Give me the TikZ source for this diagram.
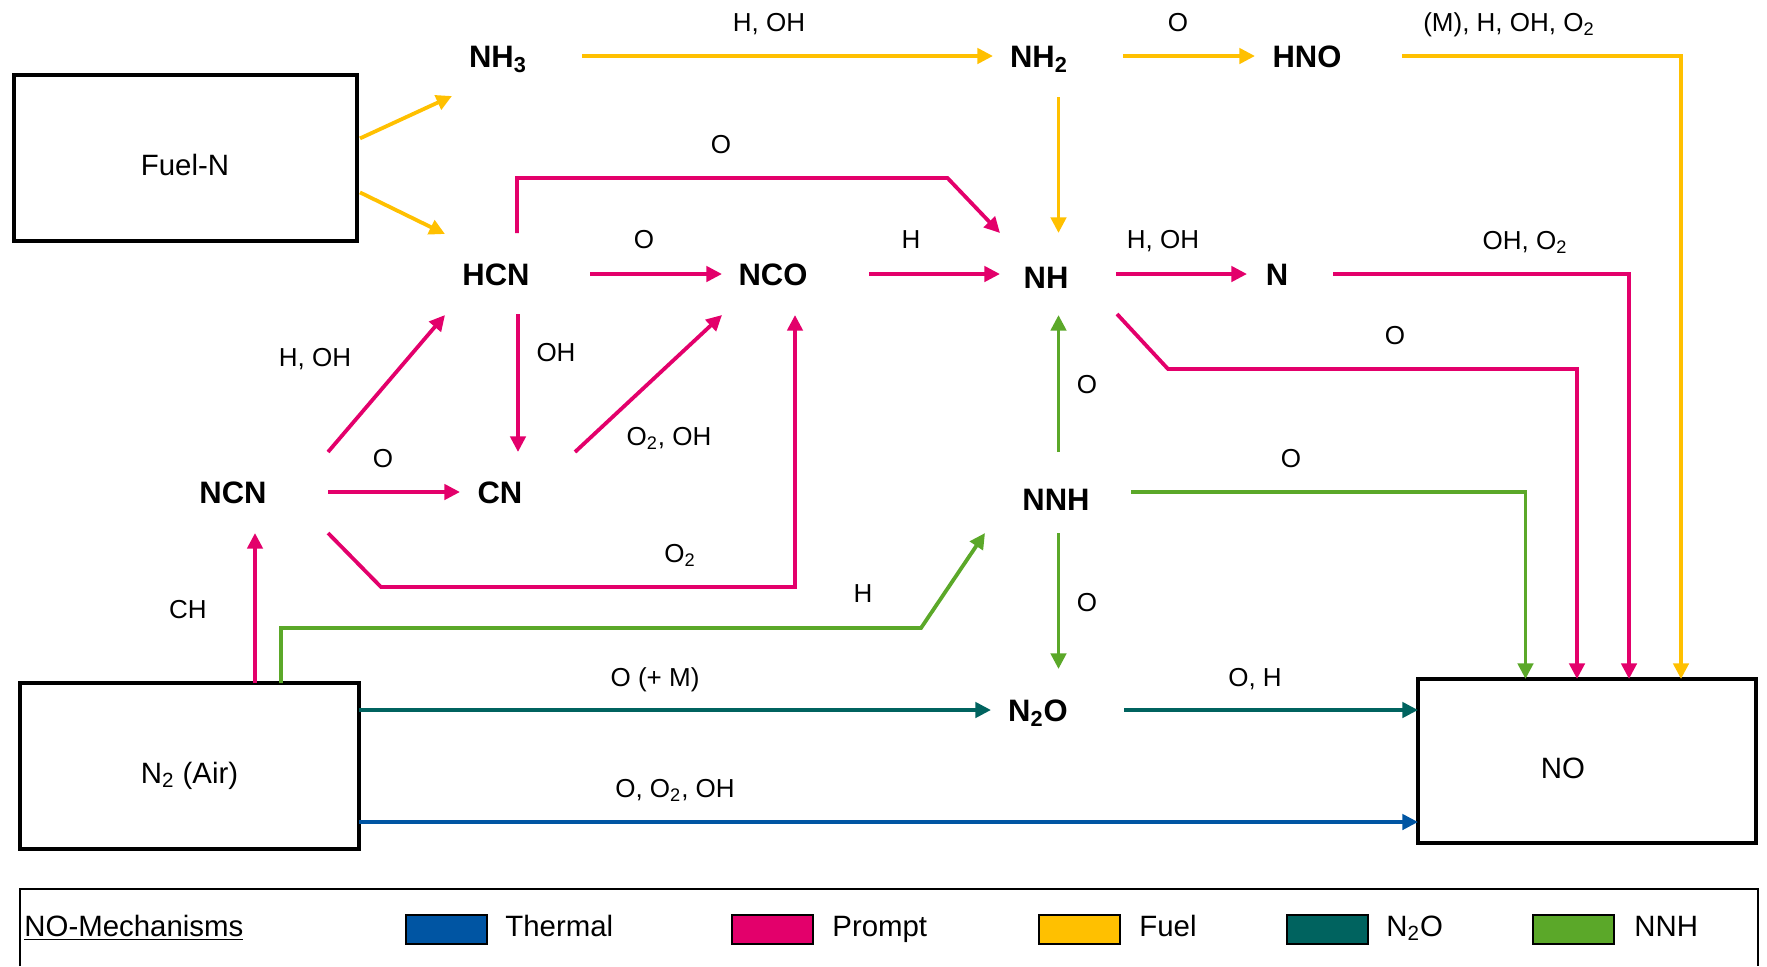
\documentclass[tikz,border=0pt]{standalone}
\usepackage{fontspec}
\setmainfont{Liberation Sans}
\usetikzlibrary{arrows.meta,calc}
\definecolor{cthermal}{HTML}{0055A3}
\definecolor{cprompt}{HTML}{E3006B}
\definecolor{cfuel}{HTML}{FFC000}
\definecolor{cntwoo}{HTML}{00635F}
\definecolor{cnnh}{HTML}{5BA829}
\tikzset{
  conn/.style={line width=1.9pt, -{Triangle[length=7.8pt,width=7.6pt]}},
  thermal/.style={conn, draw=cthermal},
  prompt/.style={conn, draw=cprompt},
  fuelc/.style={conn, draw=cfuel},
  ntwoo/.style={conn, draw=cntwoo},
  nnhc/.style={conn, draw=cnnh},
  species/.style={font=\fontsize{15.5}{18}\selectfont\bfseries, inner sep=0pt, text height=11.1pt, text depth=0pt},
  lab/.style={font=\fontsize{13}{15}\selectfont, inner sep=0pt, text height=9.3pt, text depth=0pt},
  bigbox/.style={draw, line width=2pt, inner sep=0pt, outer sep=0pt, font=\fontsize{14.7}{17}\selectfont, text height=17pt, text depth=0pt},
  legtext/.style={font=\fontsize{14.7}{17}\selectfont, inner sep=0pt, anchor=west, text height=10.5pt, text depth=0pt},
  swatch/.style={draw=black, line width=1pt, minimum width=40.5pt, minimum height=14.5pt, inner sep=0pt}
}
\begin{document}
\begin{tikzpicture}[x=0.5pt,y=-0.5pt]
\useasboundingbox (0,0) rectangle (1767,966);

% boxes
\node[bigbox, minimum width=171.5pt, minimum height=83pt] (fueln) at (185,158.4) {Fuel-N};
\node[bigbox, minimum width=169.5pt, minimum height=83pt] (n2air) at (189.5,766) {N\textsubscript{2} (Air)};
\node[bigbox, minimum width=169pt, minimum height=82pt] (no) at (1587,761) {\hspace*{-24pt}NO};

% species
\node[species] (nh3) at (498,56) {NH\textsubscript{3}};
\node[species] (nh2) at (1039,56) {NH\textsubscript{2}};
\node[species] (hno) at (1307,56) {HNO};
\node[species] (hcn) at (496,274) {HCN};
\node[species] (nco) at (773,274) {NCO};
\node[species] (nh) at (1046,277) {NH};
\node[species] (n) at (1277,274) {N};
\node[species] (ncn) at (233,492) {NCN};
\node[species] (cn) at (500,492) {CN};
\node[species] (nnh) at (1056,499) {NNH};
\node[species] (n2o) at (1038,710) {N\textsubscript{2}O};

% labels
\node[lab] (l1) at (769,22) {H, OH};
\node[lab] (l2) at (1178,22) {O};
\node[lab] (l3) at (1509,22) {(M), H, OH, O\textsubscript{2}};
\node[lab] (l4) at (721,144) {O};
\node[lab] (l5) at (644,239) {O};
\node[lab] (l6) at (911,239) {H};
\node[lab] (l7) at (1163,239) {H, OH};
\node[lab] (l8) at (1525,240) {OH, O\textsubscript{2}};
\node[lab] (l9) at (1395,335) {O};
\node[lab] (l10) at (315,357) {H, OH};
\node[lab] (l11) at (556,352) {OH};
\node[lab] (l12) at (669,436) {O\textsubscript{2}, OH};
\node[lab] (l13) at (383,458) {O};
\node[lab] (l14) at (1291,458) {O};
\node[lab] (l15) at (1087,384) {O};
\node[lab] (l16) at (680,553) {O\textsubscript{2}};
\node[lab] (l17) at (863,593) {H};
\node[lab] (l18) at (188,609) {CH};
\node[lab] (l19) at (1087,602) {O};
\node[lab] (l20) at (655,677) {O (+ M)};
\node[lab] (l21) at (1255,677) {O, H};
\node[lab] (l22) at (675,788) {O, O\textsubscript{2}, OH};

% fuel (yellow)
\draw[fuelc] ($(fueln.east)+(3.5,-20)$) -- ($(nh3)+(-46,40)$);
\draw[fuelc] ($(fueln.east)+(3.5,34)$) -- ($(hcn)+(-51,-40)$);
\draw[fuelc] ($(nh3)+(84,0)$) -- ($(nh2)+(-46,0)$);
\draw[fuelc] ($(nh2)+(84,0)$) -- ($(hno)+(-52,0)$);
\draw[fuelc] ($(nh2)+(19.5,41)$) -- ($(nh)+(12.5,-44)$);
\draw[fuelc] ($(hno)+(95,0)$) -| ($(no.north west)+(263,0)$);

% prompt (magenta)
\draw[prompt] ($(hcn)+(21,-41)$) |- ($(nh)+(-98.5,-99)$) -- ($(nh)+(-46,-44)$);
\draw[prompt] ($(hcn)+(94,0)$) -- ($(nco)+(-51,0)$);
\draw[prompt] ($(nco)+(96,0)$) -- ($(nh)+(-46,-3)$);
\draw[prompt] ($(nh)+(70,-3)$) -- ($(n)+(-30,0)$);
\draw[prompt] ($(n)+(56,0)$) -| ($(no.north west)+(211,0)$);
\draw[prompt] ($(nh)+(71,37)$) -- ($(nh)+(122,92)$) -| ($(no.north west)+(159,0)$);
\draw[prompt] ($(ncn)+(95,-40)$) -- ($(hcn)+(-51,41)$);
\draw[prompt] ($(hcn)+(22,40)$) -- ($(cn)+(18,-40)$);
\draw[prompt] ($(cn)+(75,-40)$) -- ($(nco)+(-51,41)$);
\draw[prompt] ($(ncn)+(95,0)$) -- ($(cn)+(-40,0)$);
\draw[prompt] ($(ncn)+(95,41)$) -- ($(ncn)+(148,95)$) -| ($(nco)+(22,41)$);
\draw[prompt] ($(n2air.north west)+(235,0)$) -- ($(ncn)+(22,41)$);

% NNH (green)
\draw[nnhc] ($(n2air.north west)+(261,0)$) |- ($(nnh)+(-135,129)$) -- ($(nnh)+(-71,34)$);
\draw[nnhc] ($(nnh)+(2.5,-47)$) -- ($(nh)+(12.5,38)$);
\draw[nnhc] ($(nnh)+(2.5,34)$) -- ($(n2o)+(20.5,-41)$);
\draw[nnhc] ($(nnh)+(75,-7)$) -| ($(no.north west)+(107.5,0)$);

% N2O (teal)
\draw[ntwoo] (n2air.east |- n2o) -- ($(n2o)+(-47,0)$);
\draw[ntwoo] ($(n2o)+(86,0)$) -- (no.west |- n2o);

% thermal (blue)
\draw[thermal] ($(n2air.east)+(0,56)$) coordinate (t1) -- (t1 -| no.west);

% legend
\draw[line width=1.2pt] (20,966) -- (20,889) -- (1758,889) -- (1758,966);
\node[legtext] (legtitle) at (24,925.5) {\underline{NO-Mechanisms}};
\node[swatch, fill=cthermal] (sw1) at (446.5,929.5) {};
\node[legtext] (lt1) at (505,925.5) {Thermal};
\node[swatch, fill=cprompt] (sw2) at (772,929.5) {};
\node[legtext] (lt2) at (832,925.5) {Prompt};
\node[swatch, fill=cfuel] (sw3) at (1079.5,929.5) {};
\node[legtext] (lt3) at (1139,925.5) {Fuel};
\node[swatch, fill=cntwoo] (sw4) at (1327.5,929.5) {};
\node[legtext] (lt4) at (1386,925.5) {N\textsubscript{2}O};
\node[swatch, fill=cnnh] (sw5) at (1573.5,929.5) {};
\node[legtext] (lt5) at (1634,925.5) {NNH};
\end{tikzpicture}
\end{document}
